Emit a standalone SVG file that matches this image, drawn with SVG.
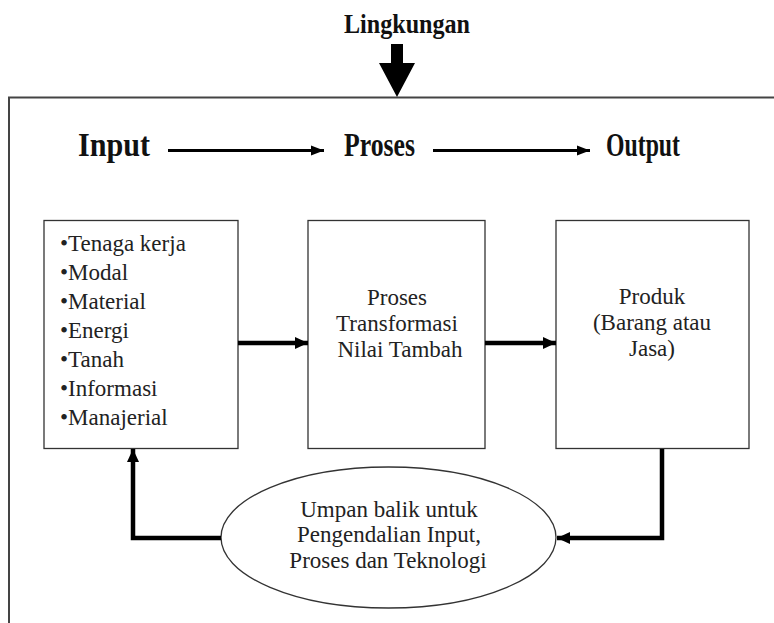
<svg xmlns="http://www.w3.org/2000/svg" width="774" height="623" viewBox="0 0 774 623">
<style>
.title{font-family:"Liberation Serif","Times New Roman",serif;font-weight:bold;fill:#111}
.body{font-family:"Liberation Serif","Times New Roman",serif;font-size:23px;fill:#222}
.box{fill:#fff;stroke:#333;stroke-width:1.3}
.thick{fill:none;stroke:#000;stroke-width:4.5}
.top{fill:none;stroke:#000;stroke-width:3}
</style>
<defs>
<marker id="head" markerUnits="userSpaceOnUse" markerWidth="14" markerHeight="14" refX="13" refY="7" orient="auto">
<path d="M0,1 L13,7 L0,13 z" fill="#000"/>
</marker>
<marker id="headS" markerUnits="userSpaceOnUse" markerWidth="14" markerHeight="12" refX="13" refY="6" orient="auto">
<path d="M0,1 L13,6 L0,11 z" fill="#000"/>
</marker>
</defs>
<rect width="774" height="623" fill="#fff"/>
<g id="frame">
<path d="M9,623 V97.5 H774" fill="none" stroke="#444" stroke-width="2"/>
</g>
<g id="lingkungan">
<text class="title" x="344" y="33" font-size="28" textLength="126" lengthAdjust="spacingAndGlyphs">Lingkungan</text>
<polygon points="391,44 403,44 403,63 415,63 397,97 379,63 391,63" fill="#000"/>
</g>
<g id="heading">
<text class="title" x="78" y="156" font-size="33" textLength="72" lengthAdjust="spacingAndGlyphs">Input</text>
<text class="title" x="344" y="156" font-size="33" textLength="71" lengthAdjust="spacingAndGlyphs">Proses</text>
<text class="title" x="606" y="156" font-size="33" textLength="74" lengthAdjust="spacingAndGlyphs">Output</text>
</g>
<g id="input-box">
<rect class="box" x="44" y="220.5" width="194" height="228"/>
<text class="body" x="60" y="251">•Tenaga kerja</text>
<text class="body" x="60" y="280">•Modal</text>
<text class="body" x="60" y="309">•Material</text>
<text class="body" x="60" y="338">•Energi</text>
<text class="body" x="60" y="367">•Tanah</text>
<text class="body" x="60" y="396">•Informasi</text>
<text class="body" x="60" y="425">•Manajerial</text>
</g>
<g id="process-box">
<rect class="box" x="308" y="220.5" width="177" height="228"/>
<text class="body" x="397" y="305" text-anchor="middle">Proses</text>
<text class="body" x="397" y="331" text-anchor="middle">Transformasi</text>
<text class="body" x="400" y="357" text-anchor="middle">Nilai Tambah</text>
</g>
<g id="output-box">
<rect class="box" x="556" y="220.5" width="193" height="228"/>
<text class="body" x="652" y="304" text-anchor="middle">Produk</text>
<text class="body" x="652" y="330" text-anchor="middle">(Barang atau</text>
<text class="body" x="652" y="356" text-anchor="middle">Jasa)</text>
</g>
<g id="feedback">
<ellipse cx="388.5" cy="537.5" rx="167.5" ry="70.5" fill="#fff" stroke="#333" stroke-width="1.3"/>
<text class="body" x="389" y="517" text-anchor="middle">Umpan balik untuk</text>
<text class="body" x="389" y="542" text-anchor="middle">Pengendalian Input,</text>
<text class="body" x="388" y="568" text-anchor="middle">Proses dan Teknologi</text>
</g>
<g id="connectors">
<path class="top" d="M168,150.5 H324" marker-end="url(#headS)"/>
<path class="top" d="M433,150.5 H590" marker-end="url(#headS)"/>
<path class="thick" d="M238,343 H308" marker-end="url(#head)"/>
<path class="thick" d="M485,343 H556" marker-end="url(#head)"/>
<path class="thick" d="M221,538 H133 V449" marker-end="url(#head)"/>
<path class="thick" d="M662,449 V538 H557" marker-end="url(#head)"/>
</g>
</svg>
